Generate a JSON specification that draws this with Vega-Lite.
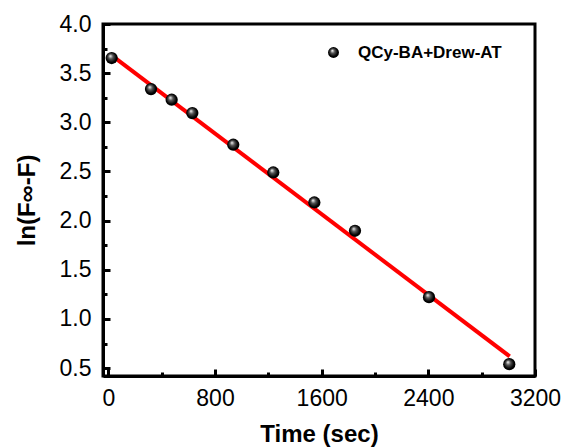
{
  "$schema": "https://vega.github.io/schema/vega-lite/v6.json",
  "width": 432,
  "height": 352,
  "autosize": "none",
  "padding": {"left": 103, "top": 24, "right": 31, "bottom": 72},
  "background": "white",
  "config": {
    "view": {"stroke": "black", "strokeWidth": 3},
    "font": "Liberation Sans",
    "axis": {
      "domainColor": "black", "domainWidth": 3, "tickColor": "black", "tickWidth": 3,
      "labelFont": "Liberation Sans", "labelFontSize": 23, "labelColor": "black", "labelFlush": false, "labelOverlap": false,
      "titleFont": "Liberation Sans", "titleFontSize": 24, "titleFontWeight": "bold", "titleColor": "black",
      "grid": false
    }
  },
  "datasets": {
    "pts": [
      {"t": 25, "v": 3.654, "series": "QCy-BA+Drew-AT"},
      {"t": 320, "v": 3.338, "series": "QCy-BA+Drew-AT"},
      {"t": 475, "v": 3.23, "series": "QCy-BA+Drew-AT"},
      {"t": 630, "v": 3.094, "series": "QCy-BA+Drew-AT"},
      {"t": 937, "v": 2.772, "series": "QCy-BA+Drew-AT"},
      {"t": 1237, "v": 2.49, "series": "QCy-BA+Drew-AT"},
      {"t": 1545, "v": 2.185, "series": "QCy-BA+Drew-AT"},
      {"t": 1850, "v": 1.897, "series": "QCy-BA+Drew-AT"},
      {"t": 2405, "v": 1.222, "series": "QCy-BA+Drew-AT"},
      {"t": 3007, "v": 0.54, "series": "QCy-BA+Drew-AT"}
    ],
    "fit": [
      {"t": 25, "v": 3.68},
      {"t": 3010, "v": 0.62}
    ]
  },
  "layer": [
    {
      "data": {"name": "fit"},
      "mark": {"type": "line", "color": "#ff0000", "strokeWidth": 4},
      "encoding": {
        "x": {"field": "t", "type": "quantitative", "scale": {"domain": [-40, 3200], "nice": false, "zero": false},
          "axis": {"values": [400, 1200, 2000, 2800], "labels": false, "tickSize": -4, "domain": false, "title": null, "orient": "bottom"}},
        "y": {"field": "v", "type": "quantitative", "scale": {"domain": [0.42, 4.0], "nice": false, "zero": false},
          "axis": {"values": [0.75, 1.25, 1.75, 2.25, 2.75, 3.25, 3.75], "labels": false, "tickSize": -4, "domain": false, "title": null, "orient": "left"}}
      }
    },
    {
      "data": {"name": "pts"},
      "mark": {"type": "point", "filled": true, "size": 150, "strokeWidth": 0,
        "fill": {"gradient": "radial", "x1": 0.38, "y1": 0.32, "r1": 0, "x2": 0.5, "y2": 0.5, "r2": 0.55,
          "stops": [{"offset": 0, "color": "#ffffff"}, {"offset": 0.35, "color": "#555555"}, {"offset": 0.75, "color": "#000000"}, {"offset": 1, "color": "#000000"}]},
        "opacity": 1},
      "encoding": {
        "x": {"field": "t", "type": "quantitative",
          "axis": {"values": [0, 800, 1600, 2400, 3200], "format": "d", "tickSize": -7, "labelPadding": 18, "title": "Time (sec)", "titlePadding": 12, "orient": "bottom"}},
        "y": {"field": "v", "type": "quantitative",
          "axis": {"values": [0.5, 1.0, 1.5, 2.0, 2.5, 3.0, 3.5, 4.0], "format": ".1f", "tickSize": -7, "labelPadding": 19, "title": "ln(F∞-F)", "titlePadding": 20, "orient": "left"}},
        "shape": {"field": "series", "type": "nominal", "scale": {"range": ["circle"]},
          "legend": {"title": null, "orient": "none", "legendX": 222, "legendY": 20, "symbolSize": 120, "symbolFillColor": "black", "symbolStrokeWidth": 0,
            "labelFont": "Liberation Sans", "labelFontSize": 17, "labelFontWeight": "bold", "labelColor": "black", "labelOffset": 16}}
      }
    }
  ],
  "resolve": {"axis": {"x": "independent", "y": "independent"}}
}
